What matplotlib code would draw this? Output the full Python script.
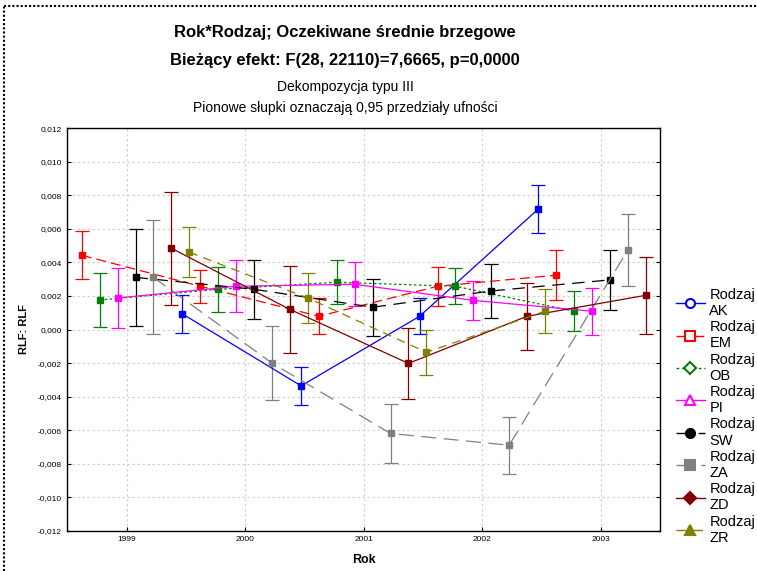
import numpy as np
import matplotlib
matplotlib.use("Agg")
import matplotlib.pyplot as plt
from matplotlib.lines import Line2D
from matplotlib.ticker import FuncFormatter, MultipleLocator

plt.rcParams['font.family'] = ['Liberation Sans', 'DejaVu Sans']

years = [1999, 2000, 2001, 2002, 2003]
groups = ['AK', 'EM', 'OB', 'PI', 'SW', 'ZA', 'ZD', 'ZR']

# means and half-widths of the 0.95 intervals (NaN = not shown)
nan = np.nan
mean_AK = [nan, 0.00093, -0.00336, 0.00079, 0.00718]
ci_AK = [nan, 0.00112, 0.00115, 0.00107, 0.00142]
mean_EM = [0.00443, 0.00258, 0.00079, 0.00258, 0.00324]
ci_EM = [0.00143, 0.00100, 0.00107, 0.00115, 0.00150]
mean_OB = [0.00176, 0.00240, 0.00282, 0.00258, 0.00109]
ci_OB = [0.00160, 0.00135, 0.00130, 0.00108, 0.00120]
mean_PI = [0.00188, 0.00258, 0.00270, 0.00174, 0.00109]
ci_PI = [0.00180, 0.00155, 0.00130, 0.00115, 0.00140]
mean_SW = [0.00311, 0.00240, 0.00133, 0.00230, 0.00296]
ci_SW = [0.00290, 0.00177, 0.00170, 0.00160, 0.00177]
mean_ZA = [0.00311, -0.00200, -0.00620, -0.00690, 0.00473]
ci_ZA = [0.00340, 0.00220, 0.00175, 0.00170, 0.00216]
mean_ZD = [0.00485, 0.00120, -0.00202, 0.00079, 0.00204]
ci_ZD = [0.00337, 0.00260, 0.00210, 0.00200, 0.00230]
mean_ZR = [0.00461, 0.00188, -0.00136, 0.00109, nan]
ci_ZR = [0.00150, 0.00147, 0.00135, 0.00130, nan]

means = [mean_AK, mean_EM, mean_OB, mean_PI, mean_SW, mean_ZA, mean_ZD, mean_ZR]
cis = [ci_AK, ci_EM, ci_OB, ci_PI, ci_SW, ci_ZA, ci_ZD, ci_ZR]

colors = ['#0000ff', '#ff0000', '#008000', '#ff00ff', '#000000', '#808080', '#800000', '#808000']
styles = ['-', (0, (8, 4)), (0, (2, 2)), '-', (0, (10, 6)), (0, (12, 6)), '-', (0, (7, 5))]
leg_markers = ['o', 's', 'D', '^', 'o', 's', 'D', '^']
leg_filled = [False, False, False, False, True, True, True, True]

fig = plt.figure(figsize=(7.57, 5.71), dpi=100)
ax = fig.add_axes([0.0889, 0.0706, 0.7831, 0.7046])

step = 0.151
for i, g in enumerate(groups):
    x = np.array(years) + (i - 3.5) * step
    ax.errorbar(x, means[i], yerr=cis[i], color=colors[i], linestyle=styles[i],
                linewidth=0.9, marker='s', markersize=4, capsize=5,
                elinewidth=0.9, capthick=0.9, zorder=3)

ax.set_xlim(1998.5, 2003.5)
ax.set_ylim(-0.012, 0.012)
ax.set_xticks(years)
ax.yaxis.set_major_locator(MultipleLocator(0.002))
ax.yaxis.set_major_formatter(FuncFormatter(lambda v, p: f"{v:.3f}".replace('.', ',').replace('-0,000', '0,000')))
ax.tick_params(axis='both', labelsize=6, length=3, direction='in', right=True, top=False)
ax.tick_params(axis='y', pad=4)
ax.grid(True, color='#d2d2d2', linestyle=(0, (2, 2)), linewidth=0.9)
for s in ax.spines.values():
    s.set_linewidth(1.0)

ax.set_xlabel('Rok', fontsize=9, fontweight='bold', labelpad=8)
ax.set_ylabel('RLF: RLF', fontsize=8, fontweight='bold')
ax.yaxis.set_label_coords(-0.064, 0.5)

cx = 0.456
fig.text(cx, 1 - 32 / 571, 'Rok*Rodzaj; Oczekiwane średnie brzegowe', ha='center', va='center',
         fontsize=12, fontweight='bold')
fig.text(cx, 1 - 61 / 571, 'Bieżący efekt: F(28, 22110)=7,6665, p=0,0000', ha='center', va='center',
         fontsize=12, fontweight='bold')
fig.text(cx, 1 - 87 / 571, 'Dekompozycja typu III', ha='center', va='center', fontsize=10)
fig.text(cx, 1 - 108 / 571, 'Pionowe słupki oznaczają 0,95 przedziały ufności', ha='center', va='center',
         fontsize=10)

handles = []
for i, g in enumerate(groups):
    handles.append(Line2D([], [], color=colors[i], linestyle=styles[i], linewidth=1.0,
                          marker=leg_markers[i], markersize=6.5,
                          markerfacecolor=colors[i] if leg_filled[i] else 'white',
                          markeredgecolor=colors[i], markeredgewidth=1.5))
fig.legend(handles, ['Rodzaj\n' + g for g in groups], loc='upper left',
           bbox_to_anchor=(0.885, 1 - 282 / 571), frameon=False, fontsize=10.5,
           handlelength=2.0, labelspacing=0.15, handletextpad=0.3, borderaxespad=0)

# dotted page frame
fig.add_artist(Line2D([4 / 757, 4 / 757], [0, 1 - 6 / 571], transform=fig.transFigure,
                      color='black', linestyle=(0, (1, 1)), linewidth=1.5))
fig.add_artist(Line2D([4 / 757, 1], [1 - 6 / 571, 1 - 6 / 571], transform=fig.transFigure,
                      color='black', linestyle=(0, (1, 1)), linewidth=1.5))

fig.savefig('out.png', dpi=100)
